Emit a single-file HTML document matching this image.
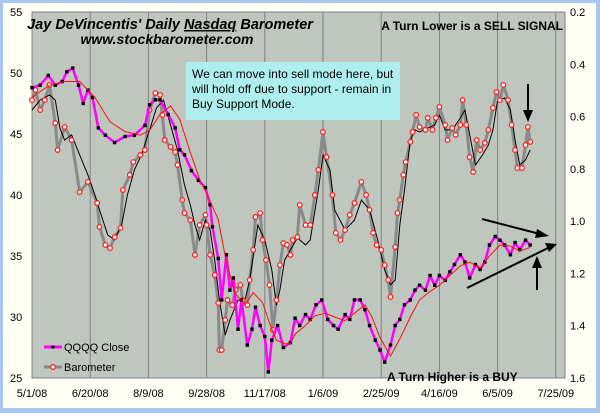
<!DOCTYPE html>
<html><head><meta charset="utf-8"><style>
html,body{margin:0;padding:0;width:600px;height:413px;overflow:hidden;background:#a9c6ee}
svg{display:block}
text{font-family:"Liberation Sans",Arial,sans-serif}
</style></head><body>
<svg id="chart" width="600" height="413" viewBox="0 0 600 413">
<rect x="3" y="3" width="593" height="405" fill="#fffff6"/>
<rect x="32" y="12" width="533" height="366" fill="#bec6be" stroke="#808080" stroke-width="1"/>
<g id="grid"></g>
<g id="series"></g>
<g id="axes"></g>
<rect x="186" y="62" width="214" height="58" fill="#aeeeee"/>
<text x="192" y="78" font-size="12" fill="#000">We can move into sell mode here, but</text>
<text x="192" y="93" font-size="12" fill="#000">will hold off due to support - remain in</text>
<text x="192" y="108" font-size="12" fill="#000">Buy Support Mode.</text>
<text x="170" y="29" font-size="14.5" font-weight="bold" font-style="italic" text-anchor="middle">Jay DeVincentis' Daily <tspan text-decoration="underline">Nasdaq</tspan> Barometer</text>
<text x="167" y="44" font-size="14" font-weight="bold" font-style="italic" text-anchor="middle">www.stockbarometer.com</text>
<text x="563" y="30" font-size="12" font-weight="bold" text-anchor="end">A Turn Lower is a SELL  SIGNAL</text>
<text x="387" y="381" font-size="12" font-weight="bold">A Turn Higher is a BUY</text>
<g stroke="#000" stroke-width="2" fill="#000">
<line x1="528" y1="84" x2="528" y2="112"/><polygon points="523,110 533,110 528,122" stroke="none"/>
<line x1="482" y1="219" x2="540" y2="234"/><polygon points="537,229 549,236 535,238" stroke="none"/>
<line x1="467" y1="288" x2="548" y2="248"/><polygon points="545,243 557,244 549,252" stroke="none"/>
<line x1="537" y1="290" x2="537" y2="266"/><polygon points="532,268 542,268 537,256" stroke="none"/>
</g>
<g>
<line x1="44" y1="347" x2="62" y2="347" stroke="#ff00ff" stroke-width="3"/>
<rect x="51.5" y="345.5" width="3" height="3" fill="#000"/>
<text x="64" y="351" font-size="11">QQQQ Close</text>
<line x1="44" y1="367" x2="62" y2="367" stroke="#888" stroke-width="3"/>
<circle cx="53" cy="367" r="2.3" fill="#fff" stroke="#ff2020" stroke-width="1.3"/>
<text x="64" y="371" font-size="11">Barometer</text>
</g>
</svg>
<script>
const qDays=[0,7,14,20,26,30,35,40,44,48,52,57,63,71,80,88,97,101,106,110,117,123,127,131,137,143,149,153,155,160,163,167,170,173,177,180,185,189,192,196,200,203,206,211,216,222,226,230,235,239,244,249,254,259,263,269,273,277,282,286,290,295,299,303,308,312,316,320,325,329,333,338,342,346,350,355,359,363,368,372,376,381,385,389,393,398,402,406,411,415,419,424,428];
const qClose=[48.8,49.0,49.8,49.0,49.3,50.1,50.4,49.0,47.5,48.6,48.0,45.5,44.9,44.3,44.8,44.9,45.7,47.4,47.8,47.8,46.6,45.5,43.7,43.3,42.0,41.2,40.6,39.2,37.4,34.8,31.4,35.1,32.2,33.2,29.0,31.4,27.7,29.0,30.8,29.3,28.4,25.5,28.1,29.3,27.5,27.9,29.9,29.3,30.2,29.8,31.0,31.4,29.8,29.3,29.0,30.2,29.8,31.4,31.4,30.6,29.3,28.1,27.3,26.3,27.7,29.3,29.8,31.0,31.4,32.2,32.6,32.2,33.4,32.6,33.4,33.0,33.7,34.3,35.1,34.5,33.2,34.3,33.9,34.5,35.9,36.6,36.3,35.9,35.1,36.1,35.5,36.3,35.9];
const maDays=[0,15,28,41,54,67,80,93,101,110,119,127,136,144,153,160,166,174,183,190,198,204,210,217,222,226,235,243,252,260,269,277,286,292,299,308,316,325,333,342,350,359,368,376,385,393,402,411,419,428];
const qMA=[48.0,49.0,49.3,49.3,48.0,46.0,45.2,44.9,45.3,46.6,47.3,46.2,43.5,41.3,39.5,38.0,35.0,32.0,31.0,32.0,31.2,29.5,28.1,27.8,27.8,28.6,29.3,30.1,30.3,30.0,29.7,30.3,31.0,30.0,28.3,26.8,28.2,30.0,31.4,32.1,32.6,33.4,34.2,34.5,34.0,35.0,35.9,35.8,35.4,35.7];
const bDays=[0,3,7,11,15,20,22,28,34,41,48,56,58,63,67,71,76,78,84,87,93,97,101,106,110,112,114,119,123,125,129,131,136,140,144,149,150,153,157,160,161,163,166,168,172,175,179,181,185,187,190,192,196,198,201,204,207,210,213,216,219,222,224,228,230,235,239,243,246,250,253,258,261,265,269,273,277,283,287,290,293,296,300,303,306,308,312,314,316,319,321,325,327,330,333,338,340,344,347,350,355,357,361,364,368,370,373,376,379,382,385,389,392,396,399,402,405,409,412,415,417,421,424,426,428];
const baro=[.537,.498,.575,.537,.479,.625,.728,.640,.690,.889,.850,.931,1.022,1.091,1.103,1.061,1.026,.881,.823,.774,.747,.728,.575,.510,.517,.594,.690,.716,.736,.785,.919,.969,.996,1.129,1.015,.976,1.015,1.129,1.206,1.313,1.493,1.493,1.378,1.302,1.321,1.263,1.244,1.302,1.321,1.225,1.110,.984,.969,1.072,1.149,1.244,1.416,1.302,1.168,1.084,1.091,1.129,1.072,1.061,.938,1.015,1.015,.900,.804,.659,.755,.900,1.045,1.072,1.034,.976,.931,.850,.900,.957,1.045,1.091,1.110,1.168,1.225,1.290,1.099,.969,.919,.823,.774,.697,.659,.594,.640,.651,.605,.651,.605,.563,.632,.690,.644,.670,.632,.537,.632,.755,.812,.690,.728,.701,.651,.567,.506,.537,.479,.537,.632,.728,.797,.797,.709,.640,.697];
const bmDays=[0,7,15,20,24,28,34,41,48,54,58,65,71,77,82,88,94,101,107,113,119,125,131,136,140,144,149,153,157,161,166,170,177,183,187,194,200,206,210,213,217,222,228,235,239,246,250,256,260,269,277,283,290,297,303,308,312,316,320,325,329,333,340,346,350,355,361,368,372,376,381,387,392,396,400,406,411,415,419,424,428];
const baroMA=[.575,.537,.517,.537,.644,.690,.670,.747,.823,.900,.957,1.053,1.072,1.015,.900,.804,.747,.651,.567,.537,.632,.728,.862,.938,1.015,1.072,.996,1.034,1.149,1.302,1.436,1.378,1.302,1.302,1.225,1.015,1.072,1.187,1.321,1.263,1.149,1.110,1.064,1.091,1.072,.881,.747,.804,.957,1.034,.996,.919,.957,1.072,1.187,1.244,1.225,1.015,.881,.690,.651,.659,.644,.632,.594,.651,.651,.605,.575,.670,.785,.747,.709,.651,.537,.529,.575,.690,.785,.766,.728];
const xTickLabels=["5/1/08","6/20/08","8/9/08","9/28/08","11/17/08","1/6/09","2/25/09","4/16/09","6/5/09","7/25/09"];
const leftTicks=[25,30,35,40,45,50,55];
const rightTicks=["0.2","0.4","0.6","0.8","1.0","1.2","1.4","1.6"];

const NS="http://www.w3.org/2000/svg";
const X0=32,PXD=1.164,Y0=12,Y1=378;
const xs=d=>X0+d*PXD;
const yL=v=>Y1-(v-25)/30*(Y1-Y0);
const yR=v=>Y0+(v-0.2)/1.4*(Y1-Y0);
function mk(tag,parent,attrs){const e=document.createElementNS(NS,tag);for(const k in attrs)e.setAttribute(k,attrs[k]);parent.appendChild(e);return e;}
const grid=document.getElementById('grid'),axes=document.getElementById('axes'),ser=document.getElementById('series');
xTickLabels.forEach((t,i)=>{
  const x=xs(i*50);
  if(i>0){const l=mk('line',grid,{x1:x,y1:Y0,x2:x,y2:Y1,stroke:'#808080','stroke-width':1});
  
  }
  const tx=mk('text',axes,{x:x,y:397,'font-size':11,'text-anchor':'middle'});tx.textContent=t;
  
  
});
leftTicks.forEach(v=>{const tx=mk('text',axes,{x:10,y:yL(v)+4,'font-size':11});tx.textContent=v;
  
  });
rightTicks.forEach(v=>{const tx=mk('text',axes,{x:570,y:yR(+v)+4,'font-size':11});tx.textContent=v;
  
  });
function path(days,vals,yf){return days.map((d,i)=>(i?'L':'M')+xs(d).toFixed(1)+' '+yf(vals[i]).toFixed(1)).join(' ');}
const bl=mk('path',ser,{d:path(bDays,baro,yR),fill:'none',stroke:'#8a8a8a','stroke-width':3,'stroke-linejoin':'round'});


const bm=mk('path',ser,{d:path(bmDays,baroMA,yR),fill:'none',stroke:'#000','stroke-width':1});


bDays.forEach((d,i)=>{const c=mk('circle',ser,{cx:xs(d),cy:yR(baro[i]),r:2.3,fill:'#fff',stroke:'#ff2020','stroke-width':1.3});
  
  });
const ql=mk('path',ser,{d:path(qDays,qClose,yL),fill:'none',stroke:'#ff00ff','stroke-width':2.5,'stroke-linejoin':'round'});


qDays.forEach((d,i)=>{const r=mk('rect',ser,{x:xs(d)-1.7,y:yL(qClose[i])-1.7,width:3.4,height:3.4,fill:'#000'});
  
  });
const qm=mk('path',ser,{d:path(maDays,qMA,yL),fill:'none',stroke:'#ff1010','stroke-width':1});


</script>
</body></html>
